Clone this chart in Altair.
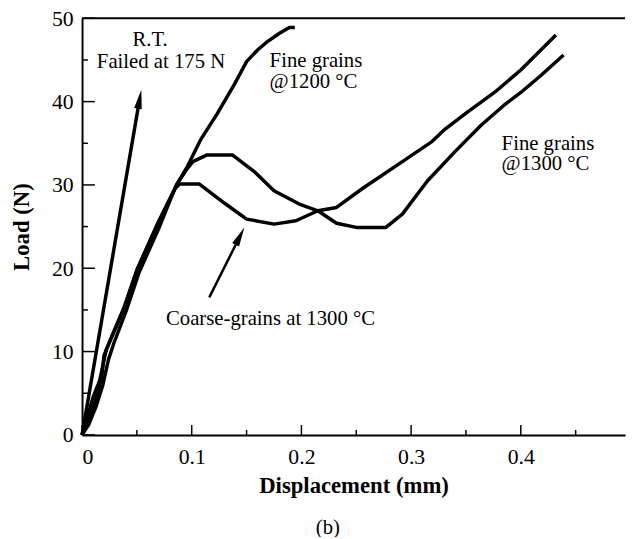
import altair as alt
import pandas as pd

# ---- data ----
rt_x = [0.0, 0.0525]
rt_y = [0.0, 40.3]

fine1200_x = [0.0, 0.004, 0.010, 0.016, 0.022, 0.028, 0.039, 0.051, 0.069, 0.087, 0.096,
              0.108, 0.123, 0.139, 0.150, 0.160, 0.168, 0.180, 0.189, 0.194]
fine1200_y = [0.0, 1.8, 4.5, 6.5, 10.2, 12.0, 15.4, 20.1, 25.4, 30.2, 32.2,
              35.4, 38.5, 42.1, 44.8, 46.2, 47.1, 48.2, 48.9, 48.9]

coarse1300_x = [0.0, 0.005, 0.012, 0.018, 0.020, 0.026, 0.038, 0.050, 0.068, 0.085, 0.089,
                0.107, 0.130, 0.150, 0.175, 0.195, 0.215, 0.232, 0.256, 0.292, 0.319,
                0.331, 0.351, 0.376, 0.400, 0.432]
coarse1300_y = [0.0, 1.5, 4.0, 7.0, 9.5, 11.5, 15.2, 19.8, 25.0, 29.6, 30.1,
                30.1, 27.8, 25.9, 25.3, 25.7, 26.9, 27.3, 29.6, 32.8, 35.2,
                36.7, 38.7, 41.1, 43.8, 48.0]

fine1300_x = [0.0, 0.006, 0.013, 0.019, 0.024, 0.029, 0.040, 0.052, 0.070, 0.086, 0.095,
              0.101, 0.114, 0.137, 0.157, 0.175, 0.198, 0.215, 0.232, 0.250, 0.277,
              0.292, 0.315, 0.340, 0.364, 0.385, 0.400, 0.418, 0.439]
fine1300_y = [0.0, 1.2, 3.5, 6.0, 9.0, 11.0, 14.8, 19.5, 24.8, 30.0, 31.8,
              32.8, 33.6, 33.6, 31.6, 29.3, 27.7, 26.9, 25.4, 24.9, 24.9,
              26.5, 30.5, 34.0, 37.2, 39.6, 41.1, 43.1, 45.6]

coarse_arrow_x = [0.116, 0.144]
coarse_arrow_y = [16.5, 23.85]

head_x = [0.0525, 0.144]
head_y = [40.3, 23.85]
head_angle = [10, 27]

label_text = ["R.T.", "Failed at 175 N", "Fine grains", "@1200 °C",
              "Fine grains", "@1300 °C", "Coarse-grains at 1300 °C"]
label_x = [0.062, 0.072, 0.171, 0.171, 0.3825, 0.3825, 0.0765]
label_y = [47.4, 44.7, 44.9, 42.3, 34.95, 32.5, 13.9]
label_align = ["center", "center", "left", "left", "left", "left", "left"]

x_major = [0.0, 0.1, 0.2, 0.3, 0.4]
x_minor = [0.05, 0.15, 0.25, 0.35, 0.45]
y_major = [0, 10, 20, 30, 40, 50]
y_minor = [5, 15, 25, 35, 45]

W, H = 550, 422
FONT = "Liberation Serif"

rows = []
for name, xs, ys in [("rt", rt_x, rt_y), ("f1200", fine1200_x, fine1200_y),
                     ("c1300", coarse1300_x, coarse1300_y), ("f1300", fine1300_x, fine1300_y)]:
    for i, (a, b) in enumerate(zip(xs, ys)):
        rows.append({"series": name, "i": i, "x": a, "y": b})
curves_df = pd.DataFrame(rows)

xs = alt.Scale(domain=[0, 0.495], nice=False)
ys = alt.Scale(domain=[0, 50], nice=False)

curves = alt.Chart(curves_df).mark_line(color="black", strokeWidth=3.5, strokeJoin="round").encode(
    x=alt.X("x:Q", scale=xs, title="Displacement (mm)",
            axis=alt.Axis(values=x_major, format="~g", ticks=False, tickSize=0,
                          labelPadding=12, titlePadding=7)),
    y=alt.Y("y:Q", scale=ys, title="Load (N)",
            axis=alt.Axis(values=y_major, ticks=False, tickSize=0,
                          labelPadding=9, titlePadding=18)),
    detail="series:N",
    order="i:Q",
)

arrow_df = pd.DataFrame({"x": coarse_arrow_x, "y": coarse_arrow_y})
arrow = alt.Chart(arrow_df).mark_line(color="black", strokeWidth=2.5).encode(
    x=alt.X("x:Q", scale=xs), y=alt.Y("y:Q", scale=ys))

heads_df = pd.DataFrame({"x": head_x, "y": head_y, "a": head_angle})
heads = alt.Chart(heads_df).mark_point(
    shape="M0,-1L0.4,1L-0.4,1Z", filled=True, color="black", opacity=1, size=380, strokeWidth=0
).encode(x=alt.X("x:Q", scale=xs), y=alt.Y("y:Q", scale=ys), angle=alt.Angle("a:Q", scale=None))

lab_df = pd.DataFrame({"t": label_text, "x": label_x, "y": label_y, "al": label_align})
texts = []
for al in ["left", "center"]:
    texts.append(alt.Chart(lab_df[lab_df["al"] == al]).mark_text(
        font=FONT, fontSize=21, color="black", align=al, baseline="middle"
    ).encode(x=alt.X("x:Q", scale=xs), y=alt.Y("y:Q", scale=ys), text="t:N"))

top = alt.Chart(pd.DataFrame({"y": [50]})).mark_rule(color="black", strokeWidth=2).encode(
    y=alt.Y("y:Q", scale=ys), x=alt.value(0), x2=alt.value(W))

ytm = alt.Chart(pd.DataFrame({"y": y_major})).mark_rule(color="black", strokeWidth=1.5).encode(
    y=alt.Y("y:Q", scale=ys), x=alt.value(0), x2=alt.value(13))
ytn = alt.Chart(pd.DataFrame({"y": y_minor})).mark_rule(color="black", strokeWidth=1.5).encode(
    y=alt.Y("y:Q", scale=ys), x=alt.value(0), x2=alt.value(6))
xtm = alt.Chart(pd.DataFrame({"x": x_major})).mark_rule(color="black", strokeWidth=1.5).encode(
    x=alt.X("x:Q", scale=xs), y=alt.value(H), y2=alt.value(H - 10))
xtn = alt.Chart(pd.DataFrame({"x": x_minor})).mark_rule(color="black", strokeWidth=1.5).encode(
    x=alt.X("x:Q", scale=xs), y=alt.value(H), y2=alt.value(H - 5))

cap = alt.Chart(pd.DataFrame({"t": ["(b)"]})).mark_text(
    font=FONT, fontSize=21, color="black", align="center", baseline="middle"
).encode(text="t:N", x=alt.value(249), y=alt.value(516))

chart = alt.layer(top, ytm, ytn, xtm, xtn, curves, arrow, heads, *texts, cap).properties(
    width=W, height=H,
    autosize=alt.AutoSizeParams(type="none"),
    padding={"left": 75, "top": 7, "right": 1, "bottom": 100},
).configure_view(strokeWidth=0).configure_axis(
    domainColor="black", domainWidth=2, grid=False,
    labelFont=FONT, labelFontSize=22, labelColor="black",
    titleFont=FONT, titleFontSize=23, titleFontWeight="bold", titleColor="black",
)

chart.save("out.html", embed_options={"renderer": "svg", "actions": False})
